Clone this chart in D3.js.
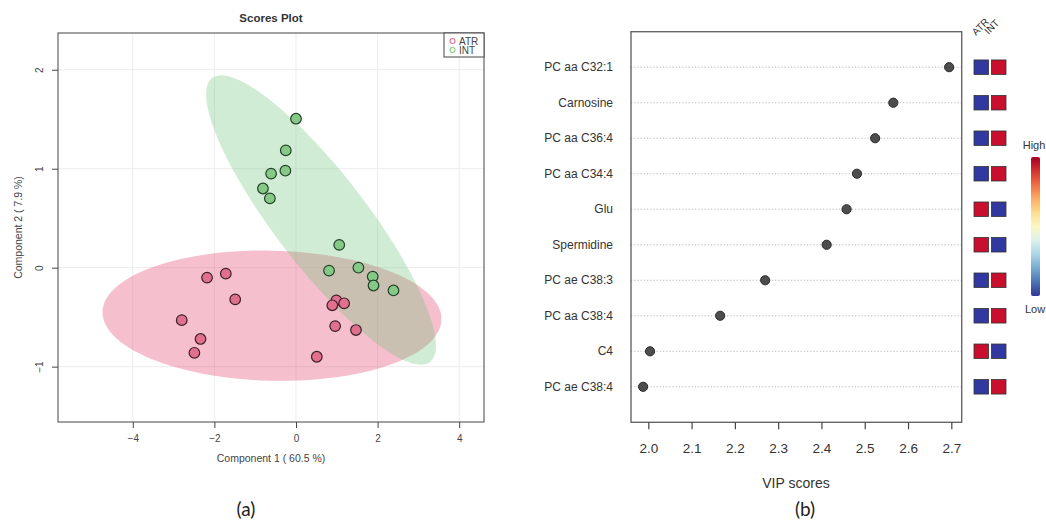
<!DOCTYPE html>
<html><head><meta charset="utf-8">
<script src="https://cdn.jsdelivr.net/npm/d3@7"></script>
<style>body{margin:0;background:#fff} svg{display:block}</style>
</head><body>
<svg id="c" width="1046" height="522"></svg>
<script>
// ---- Scores plot data ----
const atrX = [-2.18,-1.72,-1.49,-2.80,-2.34,-2.49,0.99,0.89,1.18,0.96,1.47,0.51];
const atrY = [-0.10,-0.06,-0.32,-0.53,-0.72,-0.86,-0.33,-0.38,-0.36,-0.59,-0.63,-0.90];
const intX = [0.00,-0.25,-0.61,-0.26,-0.81,-0.64,1.06,0.81,1.53,1.88,1.90,2.39];
const intY = [1.505,1.185,0.95,0.98,0.80,0.70,0.23,-0.03,0.00,-0.09,-0.18,-0.23];
// ellipse: centre, major half-vector, minor half-vector (data units)
const atrEllipse = {cx:-0.588, cy:-0.485, ux:4.154, uy:-0.040, vx:0.037, vy:0.657};
const intEllipse = {cx:0.613, cy:0.482, ux:2.671, uy:-1.434, vx:0.895, vy:0.283};
const scoreXTicks = [-4,-2,0,2,4];
const scoreYTicks = [-1,0,1,2];
const legendLabels = ["ATR","INT"];

// ---- VIP data ----
const features = ["PC aa C32:1","Carnosine","PC aa C36:4","PC aa C34:4","Glu","Spermidine","PC ae C38:3","PC aa C38:4","C4","PC ae C38:4"];
const vip = [2.695,2.566,2.524,2.482,2.458,2.412,2.270,2.166,2.004,1.988];
const atrLevel = [0,0,0,0,1,1,0,0,1,0];
const intLevel = [1,1,1,1,0,0,1,1,0,1];
const vipTicks = [2.0,2.1,2.2,2.3,2.4,2.5,2.6,2.7];
const groups = ["ATR","INT"];

const svg = d3.select("#c");
const FONT = "'Liberation Sans', Arial, sans-serif";

// ================= Panel (a) =================
const L = {left:58, right:484, top:33, bottom:422};
const x = d3.scaleLinear().domain([-5.833, 4.608]).range([L.left, L.right]);
const y = d3.scaleLinear().domain([-1.559, 2.371]).range([L.bottom, L.top]);
const pa = svg.append("g");

// grid
pa.selectAll("line.gx").data(scoreXTicks).join("line")
  .attr("x1", d=>x(d)).attr("x2", d=>x(d)).attr("y1", L.top).attr("y2", L.bottom)
  .attr("stroke", "#ececec").attr("stroke-width", 1);
pa.selectAll("line.gy").data(scoreYTicks).join("line")
  .attr("y1", d=>y(d)).attr("y2", d=>y(d)).attr("x1", L.left).attr("x2", L.right)
  .attr("stroke", "#ececec").attr("stroke-width", 1);

function ellipsePts(e){
  return d3.range(0, 121).map(i=>{
    const t = i/120*2*Math.PI;
    return [x(e.cx + e.ux*Math.cos(t) + e.vx*Math.sin(t)), y(e.cy + e.uy*Math.cos(t) + e.vy*Math.sin(t))];
  });
}
const line = d3.line();
pa.append("path").attr("d", line(ellipsePts(atrEllipse))+"Z")
  .attr("fill", "rgb(232,95,130)").attr("fill-opacity", 0.4);
pa.append("path").attr("d", line(ellipsePts(intEllipse))+"Z")
  .attr("fill", "rgb(110,195,120)").attr("fill-opacity", 0.32);

pa.selectAll("circle.atr").data(atrX).join("circle")
  .attr("cx", d=>x(d)).attr("cy", (d,i)=>y(atrY[i])).attr("r", 5.3)
  .attr("fill", "#e0708e").attr("stroke", "#3a2028").attr("stroke-width", 1.2);
pa.selectAll("circle.int").data(intX).join("circle")
  .attr("cx", d=>x(d)).attr("cy", (d,i)=>y(intY[i])).attr("r", 5.3)
  .attr("fill", "#86c987").attr("stroke", "#23402a").attr("stroke-width", 1.2);

// box
pa.append("rect").attr("x", L.left).attr("y", L.top).attr("width", L.right-L.left).attr("height", L.bottom-L.top)
  .attr("fill", "none").attr("stroke", "#444").attr("stroke-width", 1);

// x axis
const xa = pa.append("g").attr("transform", `translate(0,${L.bottom})`)
  .call(d3.axisBottom(x).tickValues(scoreXTicks).tickSize(6).tickFormat(d3.format("d")));
xa.select(".domain").remove();
xa.selectAll("line").attr("stroke", "#444");
xa.selectAll("text").attr("font-family", FONT).attr("font-size", 10).attr("fill", "#444").attr("dy", "1.1em");
// y axis
const ya = pa.append("g").attr("transform", `translate(${L.left},0)`)
  .call(d3.axisLeft(y).tickValues(scoreYTicks).tickSize(6).tickFormat(d3.format("d")));
ya.select(".domain").remove();
ya.selectAll("line").attr("stroke", "#444");
ya.selectAll("text").attr("font-family", FONT).attr("font-size", 10).attr("fill", "#444")
  .attr("text-anchor", "middle").attr("x", 0).attr("dy", 0)
  .attr("transform", d=>`translate(-15,0) rotate(-90)`);

pa.append("text").attr("x", (L.left+L.right)/2).attr("y", 22).attr("text-anchor", "middle")
  .attr("font-family", FONT).attr("font-weight", "bold").attr("font-size", 11.5).attr("fill", "#333").text("Scores Plot");
pa.append("text").attr("x", (L.left+L.right)/2).attr("y", 462).attr("text-anchor", "middle")
  .attr("font-family", FONT).attr("font-size", 10.5).attr("fill", "#444").text("Component 1 ( 60.5 %)");
pa.append("text").attr("transform", `translate(22,${(L.top+L.bottom)/2}) rotate(-90)`).attr("text-anchor", "middle")
  .attr("font-family", FONT).attr("font-size", 10.5).attr("fill", "#444").text("Component 2 ( 7.9 %)");

// legend
const lg = pa.append("g");
lg.append("rect").attr("x", 444).attr("y", L.top).attr("width", L.right-444).attr("height", 24)
  .attr("fill", "#fff").attr("stroke", "#444").attr("stroke-width", 1);
const legCols = ["#e0708e", "#86c987"];
lg.selectAll("circle").data(legendLabels).join("circle")
  .attr("cx", 452.5).attr("cy", (d,i)=>41+i*9).attr("r", 2.5)
  .attr("fill", "none").attr("stroke", (d,i)=>legCols[i]).attr("stroke-width", 1.1);
lg.selectAll("text").data(legendLabels).join("text")
  .attr("x", 459).attr("y", (d,i)=>44.5+i*9)
  .attr("font-family", FONT).attr("font-size", 10).attr("fill", "#444").text(d=>d);

// ================= Panel (b) =================
const R = {left:631, right:961.7, top:31.7, bottom:422.3};
const xv = d3.scaleLinear().domain([1.96, 2.724]).range([R.left, R.right]);
const yv = d3.scalePoint().domain(features).range([R.top, R.bottom]).padding(1);
const pb = svg.append("g");

pb.selectAll("line.g").data(features).join("line")
  .attr("x1", R.left).attr("x2", R.right).attr("y1", d=>yv(d)).attr("y2", d=>yv(d))
  .attr("stroke", "#b8b8b8").attr("stroke-width", 1).attr("stroke-dasharray", "1.2,2");
pb.append("rect").attr("x", R.left).attr("y", R.top).attr("width", R.right-R.left).attr("height", R.bottom-R.top)
  .attr("fill", "none").attr("stroke", "#666").attr("stroke-width", 1.4);
pb.selectAll("circle").data(features).join("circle")
  .attr("cx", (d,i)=>xv(vip[i])).attr("cy", d=>yv(d)).attr("r", 4.6)
  .attr("fill", "#4d4d4d").attr("stroke", "#2a2a2a").attr("stroke-width", 1);

pb.selectAll("text.lab").data(features).join("text")
  .attr("x", 613).attr("y", d=>yv(d)).attr("dy", "0.35em").attr("text-anchor", "end")
  .attr("font-family", FONT).attr("font-size", 12).attr("fill", "#333").text(d=>d);

const xva = pb.append("g").attr("transform", `translate(0,${R.bottom})`)
  .call(d3.axisBottom(xv).tickValues(vipTicks).tickSize(7).tickPadding(14).tickFormat(d3.format(".1f")));
xva.select(".domain").remove();
xva.selectAll("line").attr("stroke", "#444").attr("stroke-width", 1.2);
xva.selectAll("text").attr("font-family", FONT).attr("font-size", 13.5).attr("fill", "#333");
pb.append("text").attr("x", 796).attr("y", 488).attr("text-anchor", "middle")
  .attr("font-family", FONT).attr("font-size", 14).attr("fill", "#333").text("VIP scores");

// heat squares
const hx = d3.scaleBand().domain(groups).range([974, 1006]).paddingInner(0.17);
const hc = d3.scaleLinear().domain([0,1]).range(["#3139a0", "#c80f2d"]);
const levels = [atrLevel, intLevel];
groups.forEach((g, gi)=>{
  pb.selectAll("rect.h"+gi).data(features).join("rect")
    .attr("x", hx(g)).attr("y", d=>yv(d)-hx.bandwidth()/2)
    .attr("width", hx.bandwidth()).attr("height", hx.bandwidth())
    .attr("fill", (d,i)=>hc(levels[gi][i])).attr("stroke", "#333").attr("stroke-width", 0.8);
});
pb.selectAll("text.hg").data(groups).join("text")
  .attr("transform", (d,i)=>`translate(${hx(d)+2 - i*5},${36 - i*1}) rotate(-45)`)
  .attr("font-family", FONT).attr("font-size", 10).attr("fill", "#333").text(d=>d);

// colour bar
const defs = svg.append("defs");
const grad = defs.append("linearGradient").attr("id", "cb").attr("x1", 0).attr("y1", 0).attr("x2", 0).attr("y2", 1);
grad.selectAll("stop").data(d3.range(0, 11)).join("stop")
  .attr("offset", d=>d/10).attr("stop-color", d=>d3.interpolateRdYlBu(d/10));
pb.append("rect").attr("x", 1031).attr("y", 157).attr("width", 9).attr("height", 139)
  .attr("rx", 2).attr("fill", "url(#cb)");
pb.append("text").attr("x", 1034).attr("y", 149).attr("text-anchor", "middle")
  .attr("font-family", FONT).attr("font-size", 11).attr("fill", "#333").text("High");
pb.append("text").attr("x", 1035).attr("y", 313).attr("text-anchor", "middle")
  .attr("font-family", FONT).attr("font-size", 11).attr("fill", "#333").text("Low");

// panel letters
svg.append("text").attr("x", 246).attr("y", 516).attr("text-anchor", "middle")
  .attr("font-family", "Lato, 'Open Sans', sans-serif").attr("font-size", 19).attr("fill", "#222").text("(a)");
svg.append("text").attr("x", 805).attr("y", 516).attr("text-anchor", "middle")
  .attr("font-family", "Lato, 'Open Sans', sans-serif").attr("font-size", 19).attr("fill", "#222").text("(b)");
</script>
</body></html>
